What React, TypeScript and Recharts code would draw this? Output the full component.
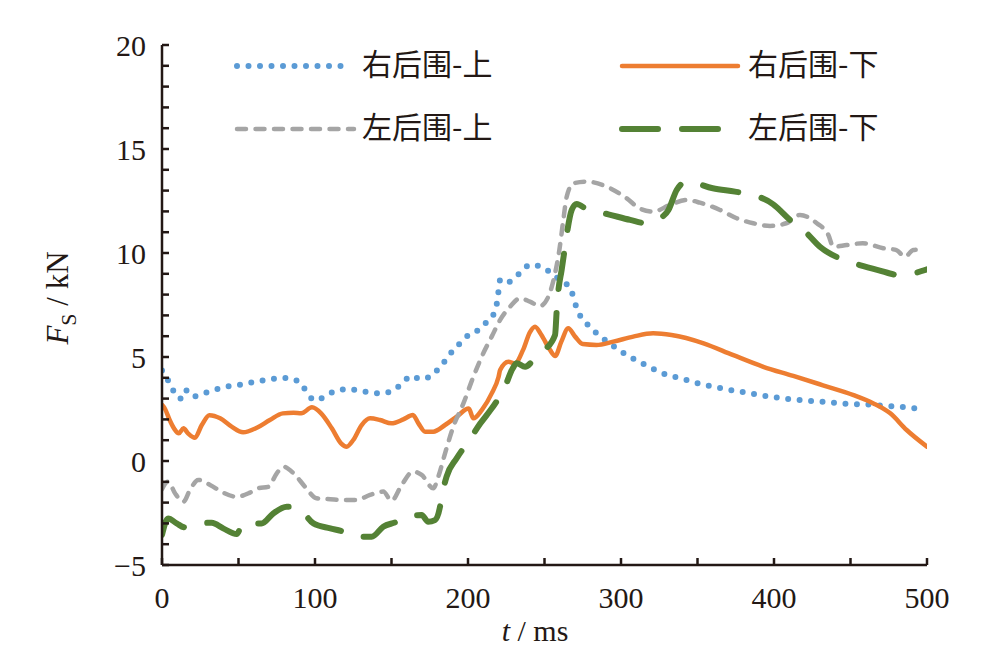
import React from "react";
import { LineChart, Line, XAxis, YAxis } from "recharts";

// [t (ms), Fs (kN)]
const rightUpper: [number, number][] = [
  [0, 4.35], [3, 4.0], [6, 3.6], [9, 3.15], [12, 3.0], [15, 3.42], [20, 3.1], [27, 3.25],
  [35, 3.43], [42, 3.57], [50, 3.65], [57, 3.75], [64, 3.85], [71, 3.94], [79, 3.99],
  [86, 3.93], [92, 3.6], [96, 3.13], [101, 2.92], [108, 3.2], [115, 3.38], [122, 3.46],
  [129, 3.38], [137, 3.29], [144, 3.25], [151, 3.4], [157, 3.73], [163, 4.09], [169, 3.94],
  [176, 4.09], [181, 4.47], [186, 4.9], [190, 5.31], [196, 5.74], [201, 6.11], [207, 6.3],
  [212, 6.67], [217, 7.1], [219, 7.64], [220, 8.2], [221, 8.7], [224, 8.56], [230, 8.75],
  [235, 9.13], [241, 9.44], [248, 9.33], [254, 9.06], [260, 8.7], [266, 8.37], [269, 7.87],
  [271, 7.34], [274.5, 6.86], [280, 6.44], [285, 6.07], [291, 5.75], [297, 5.42], [303, 5.13],
  [310, 4.84], [317, 4.58], [323, 4.36], [330, 4.14], [338, 3.99], [345, 3.85], [352, 3.7],
  [359, 3.59], [367, 3.48], [374, 3.38], [382, 3.29], [389, 3.19], [396, 3.11], [404, 3.03],
  [411, 2.97], [419, 2.92], [426, 2.87], [434, 2.84], [441, 2.79], [448, 2.75], [456, 2.72],
  [463, 2.71], [471, 2.66], [478, 2.63], [486, 2.58], [493, 2.53],
];

const rightLower: [number, number][] = [
  [0, 2.7], [2, 2.5], [5, 1.97], [8, 1.55], [11, 1.33], [14, 1.57], [17, 1.33], [21.5, 1.12],
  [26, 1.73], [31, 2.2], [38, 2.05], [45.5, 1.65], [53, 1.38], [62, 1.6], [70.5, 1.97],
  [79, 2.29], [86, 2.32], [91, 2.29], [98, 2.58], [104, 2.29], [111, 1.57], [117, 0.85],
  [120.7, 0.69], [125, 1.01], [130.5, 1.73], [136, 2.05], [142.5, 1.97], [150, 1.81],
  [157.7, 2.0], [164, 2.21], [167.6, 1.81], [172, 1.41], [177.3, 1.41], [185, 1.73],
  [192.6, 2.13], [200.5, 2.52], [203.5, 2.05], [209, 2.45], [215.5, 3.25], [220, 4.05],
  [221, 4.37], [226.4, 4.77], [230.7, 4.7], [236, 5.34], [240.5, 6.2], [243.8, 6.46],
  [248, 6.06], [253.6, 5.34], [257, 5.05], [261, 5.74], [265.5, 6.38], [270, 5.98],
  [275, 5.62], [284, 5.58], [295, 5.74], [308, 5.98], [321, 6.14], [333, 6.06], [354, 5.66],
  [373, 5.1], [393, 4.53], [412.6, 4.09], [432, 3.64], [452, 3.17], [465, 2.77], [476, 2.29],
  [486.7, 1.49], [500, 0.69],
];

const leftUpper: [number, number][] = [
  [0, -1.35], [4, -0.99], [8.5, -1.55], [14, -1.96], [18.3, -1.39], [23.7, -0.91],
  [31.4, -1.15], [40, -1.52], [48.8, -1.72], [57.5, -1.52], [63, -1.31], [69.5, -1.24],
  [75, -0.59], [79.3, -0.27], [86, -0.59], [93.5, -1.24], [101, -1.79], [110, -1.84],
  [118.5, -1.88], [127, -1.88], [136, -1.63], [144.6, -1.47], [150, -1.91], [156.7, -1.15],
  [164, -0.51], [169.7, -0.67], [177.3, -1.31], [180.6, -0.75], [185, 0.37], [190.4, 1.65],
  [197, 2.77], [203.5, 4.05], [210, 5.18], [215.5, 5.98], [221, 6.78], [227.5, 7.42],
  [234, 7.82], [240.5, 7.66], [247, 7.45], [252.5, 7.9], [256.9, 9.02], [259.7, 10.14],
  [262.3, 11.59], [264.5, 12.7], [268.8, 13.35], [277.6, 13.43], [290.6, 13.19],
  [303.7, 12.63], [312, 12.15], [321, 11.99], [332, 12.31], [343, 12.55], [351.6, 12.42],
  [364.7, 12.07], [375.6, 11.67], [386.5, 11.43], [397.4, 11.3], [408, 11.43], [417, 11.83],
  [428, 11.43], [435.5, 10.87], [438.8, 10.3], [447.5, 10.38], [458, 10.47], [471.4, 10.23],
  [480, 10.14], [485.6, 9.82], [491, 10.14], [496, 10.17],
];

const leftLower: [number, number][] = [
  [0, -3.55], [4, -2.76], [9.6, -3.0], [15, -3.19], [20.5, -3.03], [32.5, -2.97], [40, -3.24],
  [48.8, -3.51], [53, -3.0], [65, -3.0], [72.7, -2.52], [81.5, -2.2], [89, -2.27], [99, -3.0],
  [110, -3.24], [118.5, -3.4], [125, -3.64], [137, -3.64], [144.6, -3.16], [153.4, -2.92],
  [160, -2.64], [169.7, -2.6], [174, -2.92], [178.4, -2.84], [181.7, -2.2], [182.8, -1.72],
  [186, -0.75], [192.6, 0.13], [200.6, 0.98], [208, 1.8], [215.5, 2.53], [223.5, 3.45],
  [229.2, 4.45], [231.8, 4.7], [237.3, 4.53], [243.8, 4.94], [249.2, 5.29], [256.9, 6.06],
  [258, 7.26], [259, 8.14], [261.2, 9.18], [263.4, 10.3], [265, 11.1], [267.8, 12.07],
  [271, 12.36], [277.6, 12.1], [291.7, 11.86], [306, 11.59], [316.8, 11.43], [324, 11.62],
  [331, 12.07], [336.4, 13.03], [343, 13.43], [360, 13.11], [374.5, 12.95], [386.5, 12.79],
  [399.5, 12.34], [410.5, 11.59], [421.4, 10.95], [430, 10.3], [443, 9.74], [456, 9.42],
  [468, 9.18], [482, 8.94], [491, 9.02], [500, 9.21],
];

const xTicks = [0, 50, 100, 150, 200, 250, 300, 350, 400, 450, 500];
const yTicks = [
  -5, -4, -3, -2, -1, 0, 1, 2, 3, 4, 5, 6, 7, 8, 9, 10,
  11, 12, 13, 14, 15, 16, 17, 18, 19, 20,
];

const AXIS = "#231815";
const SERIF = "'Liberation Serif', 'Times New Roman', serif";
const CJK = "'Noto Sans CJK SC', sans-serif";

const series = [
  { name: "右后围-上", data: rightUpper, color: "#5B9BD5", width: 6, dash: "0 11.5" },
  { name: "右后围-下", data: rightLower, color: "#ED7D31", width: 4.5, dash: undefined },
  { name: "左后围-上", data: leftUpper, color: "#A5A5A5", width: 4.5, dash: "9 9.5" },
  { name: "左后围-下", data: leftLower, color: "#548235", width: 6, dash: "36 24" },
];

// legend slots: [lineX1, lineX2, y, textX]
const legendPos: [number, number, number, number][] = [
  [237, 345, 66, 362],
  [622, 738, 66, 748],
  [237, 354, 129, 362],
  [622, 730, 129, 748],
];

const toRows = (pts: [number, number][]) => pts.map(([t, v]) => ({ t, v }));

function fmtY(v: number) {
  if (v % 5 !== 0) return "";
  return v < 0 ? "\u2212" + Math.abs(v) : String(v);
}

export default function App() {
  return (
    <div style={{ position: "absolute", left: 0, top: 0, width: 983, height: 664, background: "#fff" }}>
      <LineChart width={983} height={664} margin={{ top: 45, right: 56, bottom: 69, left: 0 }}>
        <XAxis
          type="number"
          dataKey="t"
          domain={[0, 500]}
          ticks={xTicks}
          interval={0}
          height={30}
          tickFormatter={(v: number) => (v % 100 === 0 ? String(v) : "")}
          tickSize={-7}
          tickMargin={29}
          stroke={AXIS}
          axisLine={{ stroke: AXIS, strokeWidth: 2.5 }}
          tickLine={{ stroke: AXIS, strokeWidth: 2.5 }}
          tick={{ fill: AXIS, fontSize: 30, fontFamily: SERIF }}
          allowDataOverflow
        />
        <YAxis
          type="number"
          domain={[-5, 20]}
          ticks={yTicks}
          interval={0}
          width={162}
          tickFormatter={fmtY}
          tickSize={-7}
          tickMargin={23}
          stroke={AXIS}
          axisLine={{ stroke: AXIS, strokeWidth: 2.5 }}
          tickLine={{ stroke: AXIS, strokeWidth: 2.5 }}
          tick={{ fill: AXIS, fontSize: 30, fontFamily: SERIF }}
          allowDataOverflow
        />
        {series.map((s) => (
          <Line
            key={s.name}
            data={toRows(s.data)}
            dataKey="v"
            type="monotone"
            stroke={s.color}
            strokeWidth={s.width}
            strokeDasharray={s.dash}
            strokeLinecap="round"
            strokeLinejoin="round"
            dot={false}
            activeDot={false}
            isAnimationActive={false}
          />
        ))}
      </LineChart>

      <svg width={983} height={664} style={{ position: "absolute", left: 0, top: 0, pointerEvents: "none" }}>
        {series.map((s, i) => {
          const [x1, x2, y, tx] = legendPos[i];
          return (
            <g key={s.name}>
              <line
                x1={x1} x2={x2} y1={y} y2={y}
                stroke={s.color}
                strokeWidth={s.width}
                strokeDasharray={s.dash}
                strokeLinecap="round"
              />
              <text x={tx} y={y - 4} dominantBaseline="central" fontSize={30} fontFamily={CJK} fill={AXIS}>
                {s.name}
              </text>
            </g>
          );
        })}
        <text transform="translate(68,298) rotate(-90)" textAnchor="middle" fontSize={31} fontFamily={SERIF} fill={AXIS}>
          <tspan fontStyle="italic">F</tspan>
          <tspan fontSize={22} dy={8}>S</tspan>
          <tspan dy={-8}> / kN</tspan>
        </text>
        <text x={535} y={641} textAnchor="middle" fontSize={30} fontFamily={SERIF} fill={AXIS}>
          <tspan fontStyle="italic">t</tspan>
          <tspan> / ms</tspan>
        </text>
      </svg>
    </div>
  );
}
